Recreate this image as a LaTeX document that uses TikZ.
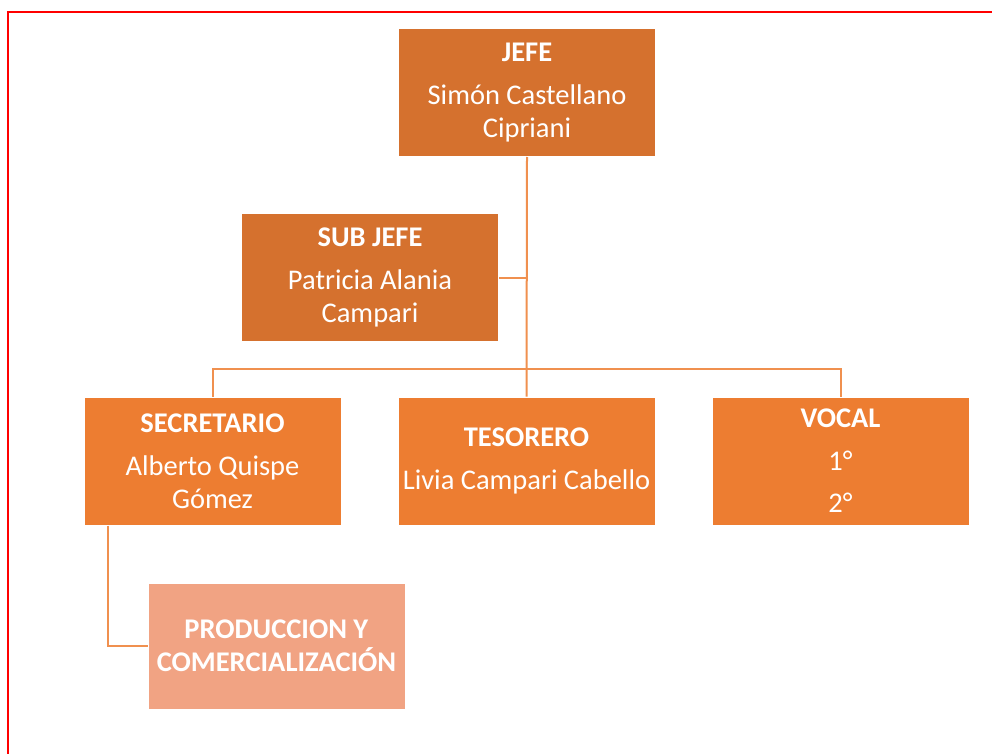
\documentclass[tikz,border=0pt]{standalone}
\usepackage{fontspec}
\setmainfont{Carlito}
\definecolor{darkor}{HTML}{D5712E}
\definecolor{midor}{HTML}{ED7D31}
\definecolor{lightor}{HTML}{F1A383}
\definecolor{lineor}{HTML}{F0904F}
\definecolor{frame}{HTML}{FF0000}
\tikzset{
  orgbox/.style={draw=white, line width=1pt, text=white, align=center,
    minimum width=257pt, minimum height=128pt, inner sep=0pt,
    font=\fontsize{28.5pt}{33pt}\selectfont},
  lvlone/.style={orgbox, fill=darkor},
  lvltwo/.style={orgbox, fill=midor},
  lvlthree/.style={orgbox, fill=lightor, minimum height=126pt},
  conn/.style={draw=lineor, line width=2pt},
}
\begin{document}
\begin{tikzpicture}[x=1pt,y=-1pt]
\useasboundingbox (0,0) rectangle (992,754);
\draw[frame, line width=2.2pt] (992,12) -- (8,12) -- (8,754);

\node[lvlone] (jefe) at (527,92.5) {\textbf{JEFE}\\[10.5pt]Simón Castellano\\Cipriani};
\node[lvlone] (sub) at (370,277.5) {\textbf{SUB JEFE}\\[10.5pt]Patricia Alania\\Campari};
\node[lvltwo] (sec) at (212.5,461) {\textbf{SECRETARIO}\\[10.5pt]Alberto Quispe\\Gómez};
\node[lvltwo] (tes) at (526.5,461) {\textbf{TESORERO}\\[10.5pt]Livia Campari Cabello};
\node[lvltwo] (voc) at (840.5,461) {\textbf{VOCAL}\\[9.5pt]1°\\[9.5pt]2°};
\node[lvlthree] (prod) at (276.5,646) {\textbf{PRODUCCION Y}\\\textbf{COMERCIALIZACIÓN}};

\coordinate (bus) at (526,369);
\coordinate (secdrop) at ([xshift=24pt]sec.south west);

\draw[conn] (jefe.south) -- (tes.north);
\draw[conn] (sub.east) -- (sub.east -| jefe.south);
\draw[conn] (sec.north) |- (bus) -| (voc.north);
\draw[conn] (secdrop) |- (prod.west);
\end{tikzpicture}
\end{document}
